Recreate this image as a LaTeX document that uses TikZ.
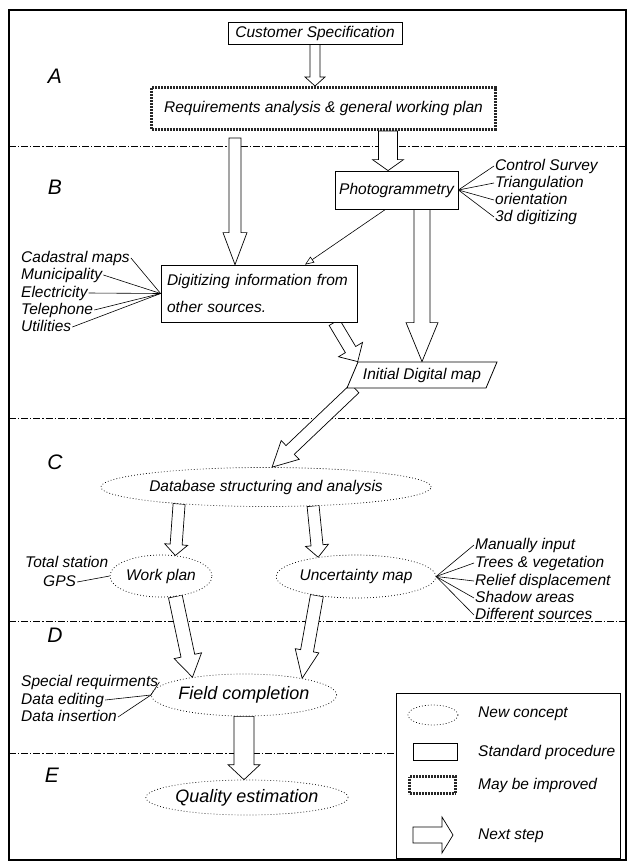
\documentclass[tikz,border=0pt]{standalone}
\usepackage{fontspec}
\setmainfont{Liberation Sans}
\usetikzlibrary{calc,shapes.geometric,arrows.meta}
\pgfdeclarelayer{background}
\pgfsetlayers{background,main}

% hollow block arrow: tail, tip, shaft half width, head half width, head length
\newcommand{\blockarrow}[5]{%
  \coordinate (hb) at ($(#2)!#5!(#1)$);
  \draw[nextstep] ($(#1)!#3!90:(#2)$) -- ($(hb)!#3!90:(#2)$) -- ($(hb)!#4!90:(#2)$)
    -- (#2) -- ($(hb)!#4!-90:(#2)$) -- ($(hb)!#3!-90:(#2)$) -- ($(#1)!#3!-90:(#2)$) -- cycle;
}

\begin{document}
\begin{tikzpicture}[x=1pt,y=-1pt,
  font=\itshape\fontsize{15.5}{17}\selectfont,
  procbox/.style={draw, fill=white, line width=0.8pt, inner sep=0pt},
  improve/.style={draw=black!85, fill=white, line width=3pt, dash pattern=on 0.9pt off 0.6pt, inner sep=0pt},
  concept/.style={ellipse, draw, fill=white, line width=0.7pt, dash pattern=on 0.8pt off 2.2pt, inner sep=0pt},
  lab/.style={anchor=west, inner sep=1pt, text height=11pt, text depth=3pt},
  fan/.style={line width=0.6pt},
  nextstep/.style={draw, fill=white, line width=0.7pt, line join=miter},
  sepline/.style={line width=0.7pt, dash pattern=on 7pt off 2pt on 1.2pt off 2pt},
  phase/.style={font=\itshape\fontsize{21}{21}\selectfont, inner sep=0pt}]
\useasboundingbox (0,0) rectangle (629,865);
\draw[line width=1.6pt] (9,10) rectangle (626,860);

% phases
\node[phase] (secA) at (55,76) {A};
\node[phase] (secB) at (55,187) {B};
\node[phase] (secC) at (55,462) {C};
\node[phase] (secD) at (55,635) {D};
\node[phase] (secE) at (52,775) {E};

% A: specification and plan
\node[procbox, minimum width=174pt, minimum height=22pt] (cust) at (315,33) {Customer Specification};
\node[improve, minimum width=344pt, minimum height=42pt] (req) at (323.5,108.5) {Requirements analysis \& general working plan};

% B: data acquisition
\node[procbox, minimum width=123pt, minimum height=38pt] (pg) at (396.5,190) {Photogrammetry};
\node[procbox, minimum width=196pt, minimum height=57pt, text width=192pt, inner xsep=2pt, align=left,
  font=\itshape\fontsize{15.5}{27}\selectfont] (dig) at (259,293.5) {\hspace*{4pt}Digitizing information from\\ \hspace*{4pt}other sources.};
\node[trapezium, draw, fill=white, line width=0.8pt, trapezium left angle=55, trapezium right angle=125,
  trapezium stretches=true, minimum width=150pt, minimum height=26pt, inner sep=0pt] (idm) at (422,375) {Initial Digital map};

\foreach \n/\t/\y in {cs/Control Survey/166, tri/Triangulation/183, ori/orientation/200, dd/3d digitizing/217} {
  \node[lab] (\n) at (494,\y) {\t};
  \draw[fan] (pg.east) -- (\n.west);
}
\foreach \n/\t/\y in {cad/Cadastral maps/258, mun/Municipality/275, ele/Electricity/293, tel/Telephone/310, uti/Utilities/327} {
  \node[lab] (\n) at (20,\y) {\t};
  \draw[fan] (\n.east) -- (dig.west);
}
\draw[fan, -{Triangle[open, length=9pt, width=7pt]}] ($(pg.south)+(-11,0)$) -- ($(dig.north)+(46,0)$);

% C: structuring
\node[concept, minimum width=267pt, minimum height=39pt] (db) at (266,487) {Database structuring and analysis};
\node[concept, minimum width=102pt, minimum height=42pt] (wp) at (161,576) {Work plan};
\node[concept, minimum width=144pt, minimum height=43pt] (um) at (356,576.5) {Uncertainty map};

\node[lab] (tot) at (24,563) {Total station};
\node[lab] (gps) at (42,582) {GPS};
\draw[fan] (gps.east) -- (wp.west);
\foreach \n/\t/\y in {man/Manually input/545, tre/Trees \& vegetation/563, rel/Relief displacement/581, sha/Shadow areas/598, dif/Different sources/615} {
  \node[lab] (\n) at (474,\y) {\t};
  \draw[fan] (um.east) -- (\n.west);
}

% D, E: field work and quality
\node[concept, minimum width=170pt, minimum height=42pt, font=\itshape\fontsize{18}{20}\selectfont] (fc) at (244,695) {Field completion};
\node[concept, minimum width=190pt, minimum height=35pt, font=\itshape\fontsize{18}{20}\selectfont] (qe) at (247,797.5) {Quality estimation};
\foreach \n/\t/\y in {spe/Special requirments/682, ded/Data editing/700, din/Data insertion/717} {
  \node[lab] (\n) at (20,\y) {\t};
  \draw[fan] (\n.east) -- (fc.west);
}

% legend
\draw[line width=0.8pt] (396,693) rectangle (620,858);
\node[concept, minimum width=50pt, minimum height=20pt] (lgc) at (433,715) {};
\node[procbox, minimum width=44pt, minimum height=17pt] (lgs) at (435,751.5) {};
\node[improve, minimum width=46pt, minimum height=17pt] (lgm) at (432.5,785) {};
\coordinate (lga) at (413,835);
\coordinate (lgb) at (453,835);
\node[lab] (lgct) at (477,713) {New concept};
\node[lab] (lgst) at (477,752) {Standard procedure};
\node[lab] (lgmt) at (477,785) {May be improved};
\node[lab] (lgat) at (477,835) {Next step};

% separators and next-step arrows
\begin{pgfonlayer}{background}
\foreach \y in {146,418,621} \draw[sepline] (9,\y) -- (626,\y);
\draw[sepline] (9,753) -- (396,753);

\coordinate (rdtip) at ($(dig.north)+(-24,0)$);
\coordinate (rdtail) at ($(rdtip |- req.south)+(0,7)$);
\coordinate (rptip) at ($(pg.north)+(-8.5,0)$);
\coordinate (idtail) at ($(idm.bottom left corner)!0.06!(idm.bottom right corner)$);

\blockarrow{cust.south}{cust.south |- req.north}{5pt}{10pt}{9pt}
\blockarrow{rptip |- req.south}{rptip}{9.5pt}{15.5pt}{11pt}
\blockarrow{rdtail}{rdtip}{6pt}{12pt}{32pt}
\blockarrow{idm.north |- pg.south}{idm.north}{8pt}{16pt}{39pt}
\blockarrow{dig.339}{idm.top left corner}{6pt}{14pt}{14pt}
\blockarrow{idtail}{db.73}{6pt}{13pt}{25pt}
\blockarrow{db.191}{wp.55}{6pt}{11.5pt}{11pt}
\blockarrow{db.338}{um.153}{6pt}{11.5pt}{12pt}
\blockarrow{wp.305}{fc.161}{7pt}{14pt}{22pt}
\blockarrow{um.206}{fc.16}{6.5pt}{12pt}{28pt}
\blockarrow{fc.south}{fc.south |- qe.north}{10pt}{16pt}{15pt}
\blockarrow{lga}{lgb}{8pt}{18pt}{11pt}
\end{pgfonlayer}
\end{tikzpicture}
\end{document}
